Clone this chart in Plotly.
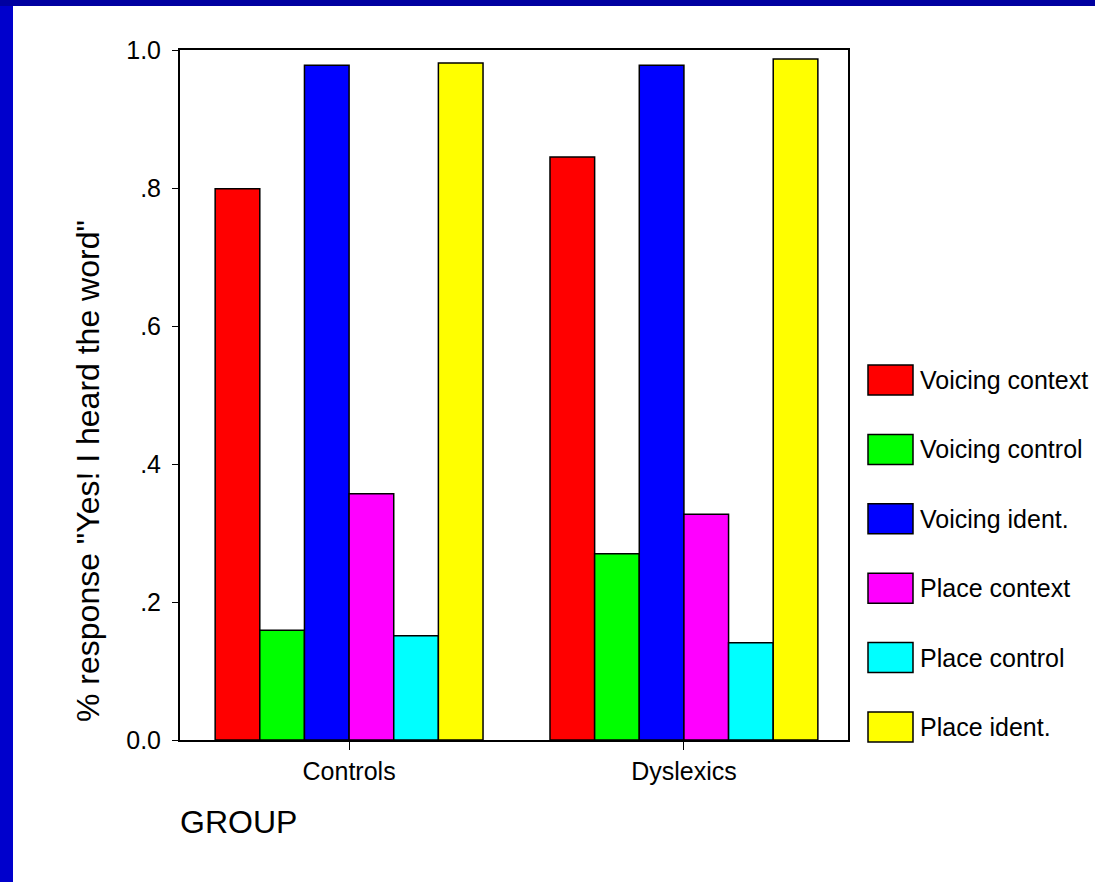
import plotly.graph_objects as go

groups = ["Controls", "Dyslexics"]
series_names = ["Voicing context", "Voicing control", "Voicing ident.",
                "Place context", "Place control", "Place ident."]
voicing_context = [0.799, 0.845]
voicing_control = [0.159, 0.270]
voicing_ident = [0.978, 0.978]
place_context = [0.357, 0.327]
place_control = [0.151, 0.141]
place_ident = [0.981, 0.987]
series_values = [voicing_context, voicing_control, voicing_ident,
                 place_context, place_control, place_ident]
colors = ["#FF0000", "#00FF00", "#0000FF", "#FF00FF", "#00FFFF", "#FFFF00"]
y_tickvals = [0.0, 0.2, 0.4, 0.6, 0.8, 1.0]
y_ticktext = ["0.0", ".2", ".4", ".6", ".8", "1.0"]

W, H = 1095, 882
L, R, T, B = 180, 848, 50, 740

fig = go.Figure()
for name, vals, col in zip(series_names, series_values, colors):
    fig.add_trace(go.Bar(x=groups, y=vals, name=name, showlegend=False,
                         marker=dict(color=col, line=dict(color="black", width=1.5))))


def px_x(p):
    return (p - L) / (R - L)


def px_y(p):
    return (B - p) / (B - T)


font = "Arial, Liberation Sans, sans-serif"

shapes = [
    dict(type="rect", xref="paper", yref="paper", x0=px_x(0), x1=px_x(13),
         y0=px_y(H), y1=px_y(0), fillcolor="#0000CC", line_width=0, layer="below"),
    dict(type="rect", xref="paper", yref="paper", x0=px_x(0), x1=px_x(W),
         y0=px_y(6), y1=px_y(0), fillcolor="#0000A0", line_width=0, layer="below"),
]
annotations = [
    dict(text="GROUP", xref="paper", yref="paper",
         x=px_x(178), y=px_y(822), xanchor="left", yanchor="middle",
         showarrow=False, font=dict(size=32)),
    dict(text='% response "Yes! I heard the word"', xref="paper", yref="paper",
         x=px_x(88), y=px_y(471), xanchor="center", yanchor="middle", textangle=-90,
         showarrow=False, font=dict(size=32)),
]

# legend drawn as swatches + labels
leg_x0, leg_x1 = 868, 913
leg_first, leg_pitch, box_h = 380, 69.4, 30
for i, (name, col) in enumerate(zip(series_names, colors)):
    cy = leg_first + i * leg_pitch
    shapes.append(dict(type="rect", xref="paper", yref="paper",
                       x0=px_x(leg_x0), x1=px_x(leg_x1),
                       y0=px_y(cy + box_h / 2), y1=px_y(cy - box_h / 2),
                       fillcolor=col, line=dict(color="black", width=1.5)))
    annotations.append(dict(text=name, xref="paper", yref="paper",
                            x=px_x(918), y=px_y(cy), xanchor="left", yanchor="middle",
                            showarrow=False, font=dict(size=25)))

fig.update_layout(
    width=W, height=H,
    margin=dict(l=L, r=W - R, t=T, b=H - B),
    paper_bgcolor="white", plot_bgcolor="white",
    barmode="group", bargap=0.2, bargroupgap=0,
    font=dict(family=font, size=25, color="black"),
    shapes=shapes,
    annotations=annotations,
    showlegend=False,
    xaxis=dict(range=[-0.505, 1.49], showline=True, linecolor="black", linewidth=2,
               mirror=True, ticks="outside", ticklen=8, tickcolor="black", tickwidth=1,
               tickfont=dict(size=25), showgrid=False),
    yaxis=dict(range=[0, 1.0], showline=True, linecolor="black", linewidth=2, mirror=True,
               ticks="outside", ticklen=6, tickcolor="black", tickwidth=1,
               ticklabelstandoff=6,
               tickvals=y_tickvals, ticktext=y_ticktext, tickfont=dict(size=25),
               showgrid=False, zeroline=False),
)

fig.write_html("out.html", config={"displayModeBar": False},
               post_script="document.body.style.margin='0px';")
